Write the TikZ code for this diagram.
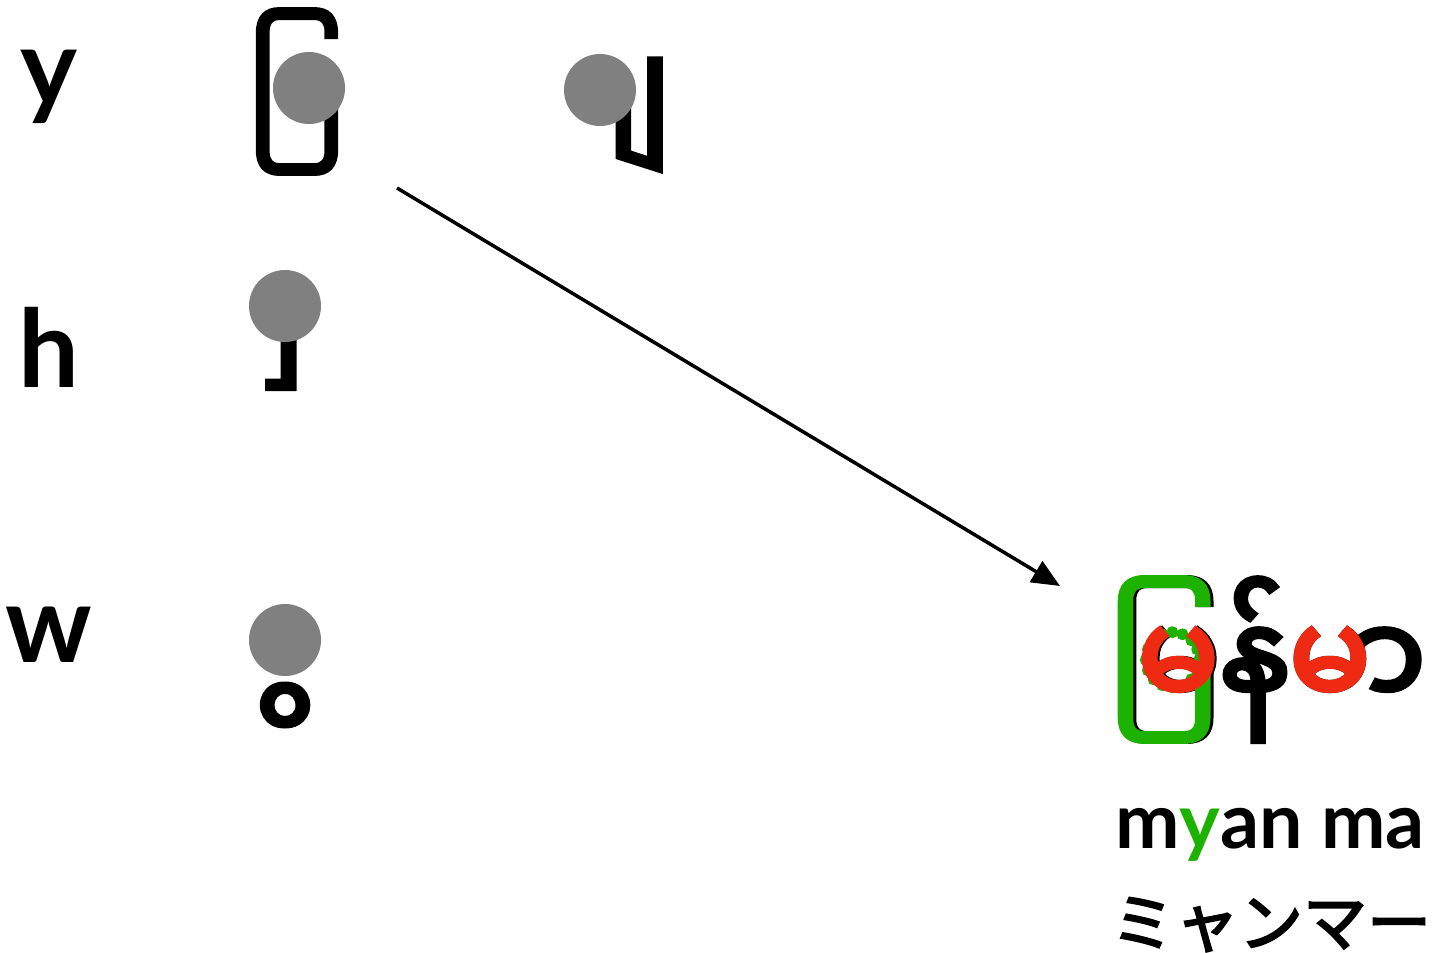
\documentclass[tikz,border=0pt]{standalone}
\usepackage{fontspec}
\usepackage{graphicx}
\usetikzlibrary{arrows.meta}
\setmainfont{Lato}
\newfontfamily\mmfont[Script=Myanmar,FakeBold=4]{Noto Sans Myanmar UI}
\newfontfamily\jpfont[FakeBold=3]{Noto Sans CJK JP}
\definecolor{mmgreen}{RGB}{29,177,0}
\definecolor{mmred}{RGB}{238,42,18}
\definecolor{dotgray}{RGB}{128,128,128}
\newcommand\mmsize{\fontsize{124}{124}\mmfont}
\newcommand\wsq[1]{\scalebox{0.968}[1]{#1}}
\newlength\mmwA \newlength\mmwB \newlength\mmwC
\tikzset{
  lbl/.style={inner sep=0pt, font=\fontsize{108}{108}\selectfont\bfseries},
  glyph/.style={inner sep=0pt, font=\mmsize},
  dot/.style={fill=dotgray, draw=none},
  conn/.style={line width=3.5pt, -{Triangle[length=28pt,width=24pt]}},
  roman/.style={inner sep=0pt, font=\fontsize{77}{77}\selectfont\bfseries},
  kana/.style={inner sep=0pt, font=\fontsize{64}{64}\jpfont},
}
\begin{document}
\settowidth\mmwA{\mmsize မြ}
\settowidth\mmwB{\mmsize မ}
\settowidth\mmwC{\mmsize မြန်}
\begin{tikzpicture}[x=1pt,y=-1pt]
\useasboundingbox (0,0) rectangle (1454,953);
% labels
\node[lbl, anchor=base] (ly) at (49,105) {y};
\node[lbl, anchor=base] (lh) at (49,387) {h};
\node[lbl, anchor=base] (lw) at (49,662) {w};
% medial glyphs (on a no-break space as base)
\node[glyph, anchor=base west] (gy) at (248,140) {\scalebox{0.86}[1]{\char"00A0 ြ}};
\node[glyph, anchor=base west] (gya) at (606,137) {\char"00A0 ျ};
\node[glyph, anchor=base west] (gh) at (295,355) {\char"00A0 ှ};
\node[glyph, anchor=base west] (gw) at (293,697) {\char"00A0 ွ};
% placeholder circles
\fill[dot] (309,88) circle (36);
\fill[dot] (600,90) circle (36);
\fill[dot] (285,306) circle (36);
\fill[dot] (285,640) circle (36);
% word
\node[glyph, anchor=base west] (word) at (1112,708) {\wsq{မြန်မာ}};
\node[glyph, anchor=base west, text=mmgreen, xshift=-3pt] (wya) at (word.base west) {\wsq{◌ြ}};
\node[glyph, anchor=base west, text=mmred, xshift=0.968\mmwA-0.968\mmwB-2pt] (wma1) at (word.base west) {\wsq{မ}};
\node[glyph, anchor=base west, text=mmred, xshift=0.968\mmwC] (wma2) at (word.base west) {\wsq{မ}};
% romanisation
\node[roman, anchor=base] (rom) at (1270,848) {m\textcolor{mmgreen}{y}an ma};
\node[kana, anchor=base] (kana) at (1271,946) {ミャンマー};
% arrow
\coordinate (as) at (397,188);
\coordinate (ae) at (1060,586);
\draw[conn] (as) -- (ae);
\end{tikzpicture}
\end{document}
